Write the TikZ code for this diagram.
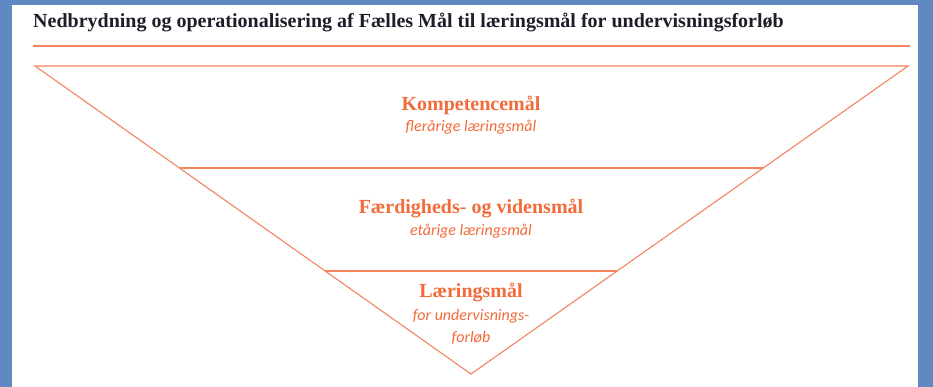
\documentclass[tikz,border=0pt]{standalone}
\usepackage{fontspec}
\setmainfont{Liberation Serif}
\newfontfamily\notefont{Carlito}
\usetikzlibrary{positioning}
\definecolor{fmblue}{HTML}{6088C2}
\definecolor{fmorange}{HTML}{F26B3A}
\definecolor{fmline}{HTML}{F4845F}
\definecolor{fmdark}{HTML}{1E1E2A}

\begin{document}
\begin{tikzpicture}[
    x=1pt, y=-1pt,
    heading/.style={
        font=\fontsize{20}{22}\selectfont\bfseries,
        text=fmdark,
        inner sep=0pt
    },
    level/.style={
        font=\fontsize{20}{22}\selectfont\bfseries,
        text=fmorange,
        inner sep=0pt
    },
    note/.style={
        font=\notefont\itshape\fontsize{16}{18}\selectfont,
        text=fmorange,
        inner sep=0pt
    },
    tier/.style={
        draw=fmline,
        line width=1.1pt
    }
]

% Page
\fill[fmblue] (0,0) rectangle (933,387);
\fill[white] (12,5) rectangle (918,387);
\useasboundingbox (0,0) rectangle (933,387);

% Title
\node[heading, anchor=base west] (title) at (33,28) {Nedbrydning og operationalisering af Fælles Mål til læringsmål for undervisningsforløb};
\coordinate (ruleL) at (33,46);
\coordinate (ruleR) at (910,46);
\draw[tier] (ruleL) -- (ruleR);

% Funnel
\coordinate (topL) at (35,66);
\coordinate (topR) at (908,66);
\coordinate (apex) at (471,374);
\draw[tier, line join=miter] (topL) -- (topR) -- (apex) -- cycle;

\coordinate (midL) at (180,168);
\coordinate (midR) at (763,168);
\draw[tier] (midL) -- (midR);

\coordinate (lowL) at (325,271);
\coordinate (lowR) at (617,271);
\draw[tier] (lowL) -- (lowR);

% Levels
\node[level, anchor=base] (komp) at (471,111) {Kompetencemål};
\node[note, anchor=base] (kompnote) at (471,132) {flerårige læringsmål};

\node[level, anchor=base] (faerd) at (471,214) {Færdigheds- og vidensmål};
\node[note, anchor=base] (faerdnote) at (471,236) {etårige læringsmål};

\node[level, anchor=base] (laer) at (471,297) {Læringsmål};
\node[note, anchor=base] (laernote) at (471,320) {for undervisnings-};
\node[note, anchor=base] (laernote2) at (471,342) {forløb};

\end{tikzpicture}
\end{document}
